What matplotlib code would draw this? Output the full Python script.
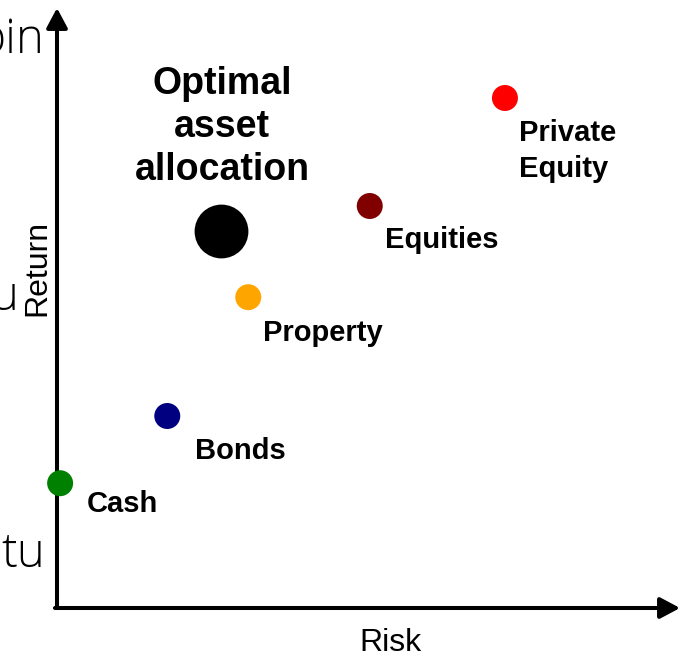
import numpy as np
import matplotlib.pyplot as plt

plt.rcParams['font.family'] = ['Liberation Sans', 'DejaVu Sans']

# asset classes: risk / return in arbitrary units (0..10)
assets = ['Cash', 'Bonds', 'Property', 'Equities', 'Private\nEquity']
risk = [0.05, 1.77, 3.07, 5.02, 7.19]
ret = [2.08, 3.2, 5.18, 6.7, 8.5]
colors = ['#008000', '#000080', '#FFA500', '#800000', '#FF0000']
# label anchors (left edge, vertical centre)
lab_risk = [0.48, 2.22, 3.31, 5.26, 7.42]
lab_ret = [1.74, 2.61, 4.59, 6.13, 7.62]

opt_risk, opt_ret = 2.63, 6.28

W, H = 685, 659
fig = plt.figure(figsize=(W / 100, H / 100), dpi=100)
ax = fig.add_axes([57 / W, (H - 608) / H, (680 - 57) / W, (608 - 8) / H])
ax.set_xlim(0, 10)
ax.set_ylim(0, 10)
ax.axis('off')

# axes arrows
arr = dict(arrowstyle='-|>,head_length=0.6,head_width=0.32', lw=2.9, color='black',
           shrinkA=0, shrinkB=0, mutation_scale=20)
ax.annotate('', xy=(0, 10), xytext=(0, 0), arrowprops=arr, annotation_clip=False)
ax.annotate('', xy=(10, 0), xytext=(-0.033, 0), arrowprops=arr, annotation_clip=False)

ax.scatter(risk, ret, s=350, c=colors, zorder=3, clip_on=False, linewidths=0)
ax.scatter([opt_risk], [opt_ret], s=1500, c='black', zorder=3, linewidths=0)

for name, x, y in zip(assets, lab_risk, lab_ret):
    ax.text(x, y, name, fontsize=21, fontweight='bold', ha='left', va='center',
            linespacing=1.36)

ax.text(2.65, 8.02, 'Optimal\nasset\nallocation', fontsize=27, fontweight='bold',
        ha='center', va='center', multialignment='center', linespacing=1.24)

ax.text(5.36, -0.59, 'Risk', fontsize=23, ha='center', va='center', clip_on=False)
ax.text(-0.32, 5.67, 'Return', fontsize=23, ha='center', va='center', rotation=90,
        clip_on=False)

# bits of text cut off at the left edge
bg = dict(fontsize=34, family=['Open Sans', 'DejaVu Sans'], fontweight='light',
          ha='right', va='baseline')
fig.text(45 / W, 1 - 53 / H, 'pin', **bg)
fig.text(18 / W, 1 - 310 / H, 'u', **bg)
fig.text(45 / W, 1 - 567 / H, 'tu', **bg)

fig.savefig('out.png', dpi=100)
